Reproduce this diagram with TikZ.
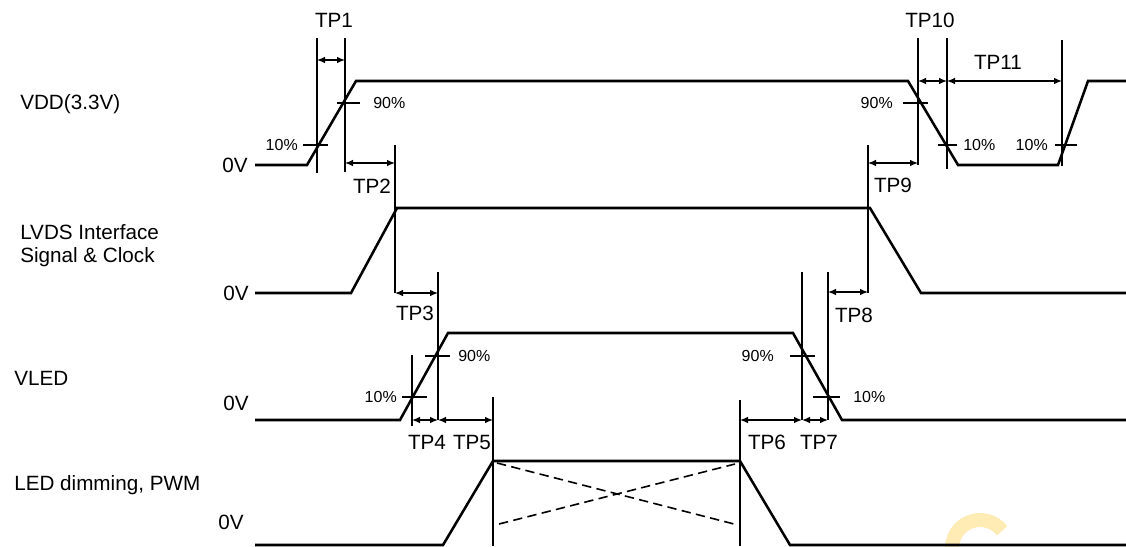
\documentclass[tikz,border=0pt]{standalone}
\usepackage{fontspec}
\setmainfont{Liberation Sans}
\usetikzlibrary{arrows.meta}
\begin{document}
\begin{tikzpicture}[x=0.75pt,y=-0.75pt,
 wave/.style={line width=1.9pt, line join=miter},
 guide/.style={line width=1.0pt},
 bguide/.style={line width=2.2pt},
 tickmark/.style={line width=1.9pt},
 dim/.style={line width=1.0pt, {Latex[length=6pt,width=5pt]}-{Latex[length=6pt,width=5pt]}},
 lbl/.style={font=\fontsize{15.5}{18}\selectfont, inner sep=0pt},
 pct/.style={font=\fontsize{12}{14}\selectfont, inner sep=0pt},
 dashline/.style={line width=1.2pt, dash pattern=on 7pt off 4pt},
]
\useasboundingbox (0,0) rectangle (1126,546);
% watermark arc
\draw[line width=10.5pt, color={rgb,255:red,255;green,236;blue,180}] (952,548) arc[start angle=180, end angle=322, radius=28];

% signal names
\node[lbl, anchor=west] (nvdd) at (20,104) {VDD(3.3V)};
\node[lbl, anchor=west] (nlvds1) at (20,232) {LVDS Interface};
\node[lbl, anchor=west] (nlvds2) at (20,257) {Signal \& Clock};
\node[lbl, anchor=west] (nvled) at (14,378) {VLED};
\node[lbl, anchor=west] (npwm) at (14,485) {LED dimming, PWM};
\node[lbl, anchor=east] (z1) at (248,165) {0V};
\node[lbl, anchor=east] (z2) at (249,293) {0V};
\node[lbl, anchor=east] (z3) at (249,403) {0V};
\node[lbl, anchor=east] (z4) at (244,522) {0V};

% waveforms
\draw[wave] (255,165) -- (307,165) -- (356,81) -- (908,81) -- (958,165) -- (1058,165) -- (1088,81) -- (1126,81);
\draw[wave] (255,293) -- (351,293) -- (397,208) -- (870,208) -- (921,293) -- (1126,293);
\draw[wave] (255,420) -- (400,420) -- (448,333) -- (793,333) -- (842,420) -- (1126,420);
\draw[wave] (255,545) -- (443,545) -- (493,461) -- (740,461) -- (790,545) -- (1126,545);
\draw[dashline] (497,463) -- (734,524);
\draw[dashline] (499,524) -- (735,464);

% guide lines
\coordinate (a1t) at (317,38);  \coordinate (a1b) at (317,173);
\coordinate (a2t) at (345,38);  \coordinate (a2b) at (345,172);
\coordinate (a3t) at (395,145); \coordinate (a3b) at (395,293);
\coordinate (a4t) at (438,272); \coordinate (a4b) at (438,420);
\coordinate (a5t) at (412,355); \coordinate (a5b) at (412,426);
\coordinate (a6t) at (493,397); \coordinate (a6b) at (493,546);
\coordinate (a7t) at (740,400); \coordinate (a7b) at (740,546);
\coordinate (a8t) at (802,272); \coordinate (a8b) at (802,420);
\coordinate (a9t) at (828,272); \coordinate (a9b) at (828,420);
\coordinate (a10t) at (868,145); \coordinate (a10b) at (868,293);
\coordinate (a11t) at (918,38); \coordinate (a11b) at (918,165);
\coordinate (a12t) at (947,38); \coordinate (a12b) at (947,169);
\coordinate (a13t) at (1062,40); \coordinate (a13b) at (1062,166);
\draw[bguide] (a1t) -- (a1b);
\draw[guide] (a2t) -- (a2b);
\draw[guide] (a3t) -- (a3b);
\draw[guide] (a4t) -- (a4b);
\draw[bguide] (a5t) -- (a5b);
\draw[guide] (a6t) -- (a6b);
\draw[guide] (a7t) -- (a7b);
\draw[guide] (a8t) -- (a8b);
\draw[guide] (a9t) -- (a9b);
\draw[guide] (a10t) -- (a10b);
\draw[guide] (a11t) -- (a11b);
\draw[bguide] (a12t) -- (a12b);
\draw[bguide] (a13t) -- (a13b);

% dimension arrows
\draw[dim] (317,60) -- (345,60);
\draw[dim] (345,163) -- (395,163);
\draw[dim] (395,293) -- (438,293);
\draw[dim] (412,420) -- (438,420);
\draw[dim] (438,420) -- (493,420);
\draw[dim] (740,420) -- (802,420);
\draw[dim] (802,420) -- (828,420);
\draw[dim] (828,292) -- (868,292);
\draw[dim] (868,163) -- (918,163);
\draw[dim] (918,81) -- (947,81);
\draw[dim] (947,81) -- (1062,81);

% TP labels
\node[lbl] (tp1) at (334,20) {TP1};
\node[lbl] (tp2) at (372,186) {TP2};
\node[lbl] (tp3) at (415,313) {TP3};
\node[lbl] (tp4) at (427,442) {TP4};
\node[lbl] (tp5) at (472,442) {TP5};
\node[lbl] (tp6) at (767,442) {TP6};
\node[lbl] (tp7) at (819,442) {TP7};
\node[lbl] (tp8) at (854,315) {TP8};
\node[lbl] (tp9) at (893,185) {TP9};
\node[lbl] (tp10) at (930,20) {TP10};
\node[lbl] (tp11) at (998,62) {TP11};

% percent ticks
\draw[tickmark] (303,145) -- (328,145);
\node[pct, anchor=east] (p1) at (298,145) {10\%};
\draw[tickmark] (337,103) -- (360,103);
\node[pct, anchor=west] (p2) at (373,103) {90\%};
\draw[tickmark] (903,103) -- (928,103);
\node[pct, anchor=east] (p3) at (893,103) {90\%};
\draw[tickmark] (938,145) -- (957,145);
\node[pct, anchor=west] (p4) at (963,145) {10\%};
\draw[tickmark] (1055,145) -- (1077,145);
\node[pct, anchor=east] (p5) at (1048,145) {10\%};
\draw[tickmark] (402,397) -- (427,397);
\node[pct, anchor=east] (p6) at (397,397) {10\%};
\draw[tickmark] (425,356) -- (450,356);
\node[pct, anchor=west] (p7) at (458,356) {90\%};
\draw[tickmark] (790,356) -- (815,356);
\node[pct, anchor=east] (p8) at (774,356) {90\%};
\draw[tickmark] (813,397) -- (840,397);
\node[pct, anchor=west] (p9) at (853,397) {10\%};
\end{tikzpicture}
\end{document}
